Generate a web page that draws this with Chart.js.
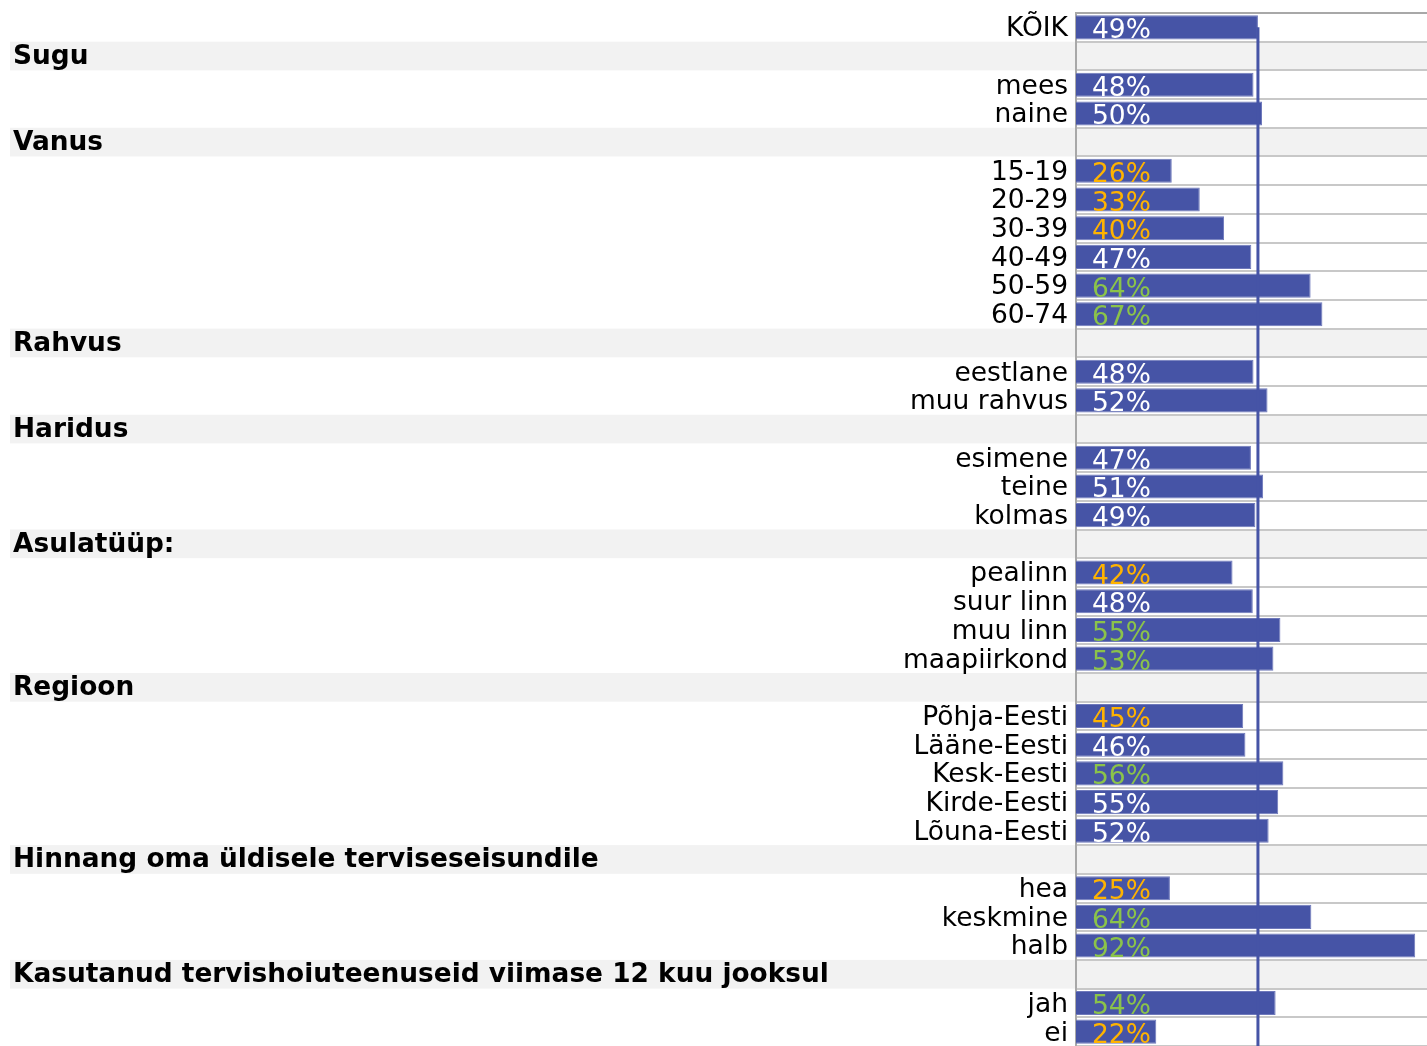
<!DOCTYPE html>
<html>
<head>
<meta charset="utf-8">
<script src="https://cdn.jsdelivr.net/npm/chart.js@4/dist/chart.umd.min.js"></script>
<style>
  html, body { margin: 0; padding: 0; background: #ffffff; overflow: hidden; }
  #wrap { position: relative; width: 1427px; height: 1046px; }
</style>
</head>
<body>
<div id="wrap"><canvas id="c"></canvas></div>
<script>
// Row labels (header rows flagged separately)
const categories = [
  'KÕIK', 'Sugu', 'mees', 'naine', 'Vanus', '15-19', '20-29', '30-39', '40-49', '50-59', '60-74',
  'Rahvus', 'eestlane', 'muu rahvus', 'Haridus', 'esimene', 'teine', 'kolmas',
  'Asulatüüp:', 'pealinn', 'suur linn', 'muu linn', 'maapiirkond',
  'Regioon', 'Põhja-Eesti', 'Lääne-Eesti', 'Kesk-Eesti', 'Kirde-Eesti', 'Lõuna-Eesti',
  'Hinnang oma üldisele terviseseisundile', 'hea', 'keskmine', 'halb',
  'Kasutanud tervishoiuteenuseid viimase 12 kuu jooksul', 'jah', 'ei'
];
const headerRows = [
  'Sugu', 'Vanus', 'Rahvus', 'Haridus', 'Asulatüüp:', 'Regioon',
  'Hinnang oma üldisele terviseseisundile',
  'Kasutanud tervishoiuteenuseid viimase 12 kuu jooksul'
];
// Bar values (percent), null for header rows
const values = [
  49.4, null, 48.2, 50.5, null, 26.0, 33.6, 40.2, 47.6, 63.7, 66.9,
  null, 48.2, 52.0, null, 47.5, 50.8, 48.7,
  null, 42.5, 48.0, 55.5, 53.6,
  null, 45.4, 46.0, 56.3, 54.9, 52.3,
  null, 25.5, 63.9, 92.1,
  null, 54.2, 21.8
];
// Printed value labels
const valueLabels = [
  '49%', '', '48%', '50%', '', '26%', '33%', '40%', '47%', '64%', '67%',
  '', '48%', '52%', '', '47%', '51%', '49%',
  '', '42%', '48%', '55%', '53%',
  '', '45%', '46%', '56%', '55%', '52%',
  '', '25%', '64%', '92%',
  '', '54%', '22%'
];
// Difference from total: 'low', 'high' or 'same'
const significance = [
  'same', '', 'same', 'same', '', 'low', 'low', 'low', 'same', 'high', 'high',
  '', 'same', 'same', '', 'same', 'same', 'same',
  '', 'low', 'same', 'high', 'high',
  '', 'low', 'same', 'high', 'same', 'same',
  '', 'low', 'high', 'high',
  '', 'high', 'low'
];
const xMax = 95.3;

const BAR = '#4654a6';
const sigColor = { same: '#ffffff', low: '#ffb300', high: '#8bc34a' };
const FONT = "'DejaVu Sans', Verdana, sans-serif";

const isHeader = (i) => headerRows.includes(categories[i]);

const deco = {
  id: 'deco',
  beforeDraw(chart) {
    const { ctx, chartArea, scales: { y } } = chart;
    const rowH = (chartArea.bottom - chartArea.top) / categories.length;
    ctx.save();
    ctx.fillStyle = '#f2f2f2';
    categories.forEach((c, i) => {
      if (!isHeader(i)) return;
      const cy = y.getPixelForValue(i);
      ctx.fillRect(10, cy - rowH / 2, chart.width - 10, rowH);
    });
    ctx.restore();
  },
  afterDatasetsDraw(chart) {
    const { ctx, chartArea, scales: { x, y } } = chart;
    ctx.save();
    // reference line at total value
    const lx = x.getPixelForValue(values[0]);
    ctx.strokeStyle = BAR;
    ctx.lineWidth = 3;
    ctx.beginPath();
    ctx.moveTo(lx, y.getPixelForValue(0));
    ctx.lineTo(lx, chartArea.bottom);
    ctx.stroke();
    // value labels
    ctx.font = '26.5px ' + FONT;
    ctx.textAlign = 'left';
    ctx.textBaseline = 'alphabetic';
    values.forEach((v, i) => {
      if (v === null) return;
      ctx.fillStyle = sigColor[significance[i]];
      ctx.fillText(valueLabels[i], x.getPixelForValue(0) + 16, y.getPixelForValue(i) + 11);
    });
    // header labels
    ctx.font = 'bold 26.4px ' + FONT;
    ctx.fillStyle = '#000000';
    categories.forEach((c, i) => {
      if (!isHeader(i)) return;
      ctx.fillText(c, 13, y.getPixelForValue(i) + 8);
    });
    ctx.restore();
  }
};

new Chart(document.getElementById('c'), {
  type: 'bar',
  data: {
    labels: categories,
    datasets: [{
      data: values,
      backgroundColor: BAR,
      borderColor: '#6f79bb',
      borderWidth: 1,
      barPercentage: 0.84,
      categoryPercentage: 1.0
    }]
  },
  options: {
    indexAxis: 'y',
    responsive: true,
    maintainAspectRatio: false,
    animation: false,
    layout: { padding: { top: 13, right: 0, bottom: 0, left: 0 } },
    plugins: { legend: { display: false }, tooltip: { enabled: false } },
    scales: {
      x: { display: false, min: 0, max: xMax },
      y: {
        afterFit(scale) {
          scale.width = 1076;
          scale.paddingTop = 0;
          scale.paddingBottom = 0;
        },
        grid: {
          offset: true,
          drawTicks: false,
          lineWidth: 2,
          color: (ctx) => ctx.index === 0 ? '#a8a8a8' : '#c8c8c8'
        },
        border: { display: true, color: '#a8a8a8', width: 2 },
        ticks: {
          padding: 8,
          labelOffset: 2,
          color: '#000000',
          font: { family: FONT, size: 26.5 },
          autoSkip: false,
          callback: function (val, i) { return isHeader(i) ? '' : categories[i]; }
        }
      }
    }
  },
  plugins: [deco]
});
</script>
</body>
</html>
